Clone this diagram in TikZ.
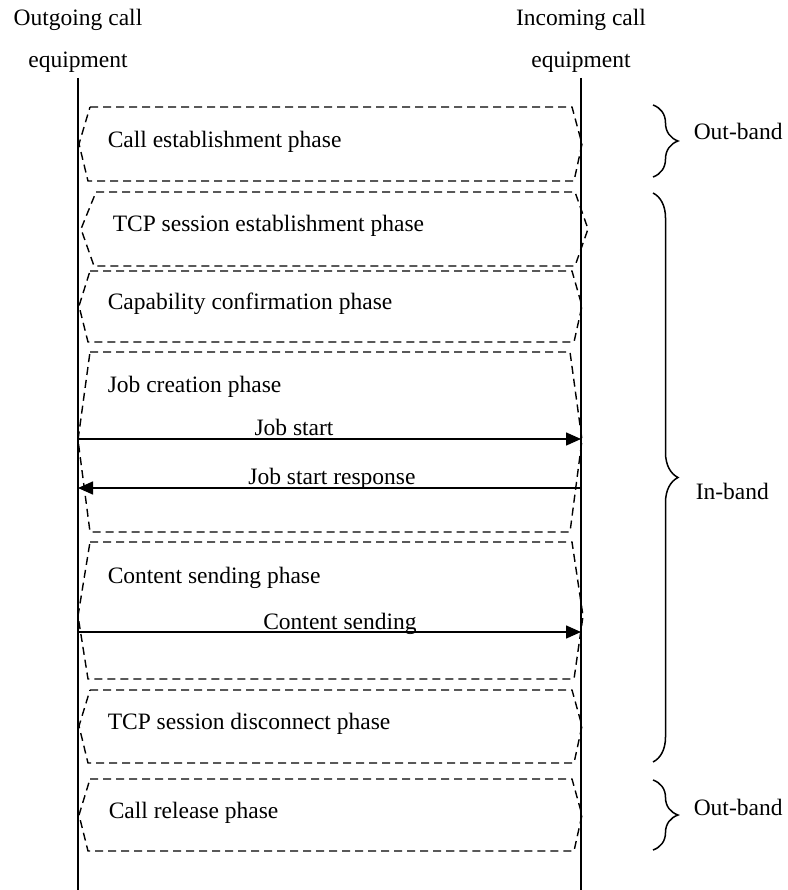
\documentclass[tikz,border=0pt]{standalone}
\usepackage{fontspec}
\setmainfont{Liberation Serif}
\usetikzlibrary{arrows.meta,decorations.pathreplacing}
\begin{document}
\begin{tikzpicture}[x=1pt,y=-1pt,font=\fontsize{23.5}{28}\selectfont,line width=1.5pt]
	\tikzstyle{phase}=[draw,dash pattern=on 8pt off 5pt,line width=1.4pt]
	\tikzstyle{msg}=[-{Triangle[length=15pt,width=13pt]}]
	\tikzstyle{band}=[decorate,decoration={brace,amplitude=25pt}]
	\tikzstyle{phasetext}=[anchor=base west,inner sep=0pt]
	\tikzstyle{msgtext}=[anchor=base,inner sep=0pt]
	\useasboundingbox (0,0) rectangle (787,890);
	% equipment
	\node[anchor=base] (outgoing) at (78,25.5) {Outgoing call};
	\node[anchor=base] (outequip) at (78,68) {equipment};
	\node[anchor=base] (incoming) at (581,25.5) {Incoming call};
	\node[anchor=base] (inequip) at (581,68) {equipment};
	\coordinate (out top) at (78,78);
	\coordinate (out bottom) at (78,890);
	\coordinate (in top) at (581,78);
	\coordinate (in bottom) at (581,890);
	\draw (out top) -- (out bottom);
	\draw (in top) -- (in bottom);
	% phases
	\draw[phase] (90,107) -- (572,107) -- (582,144) -- (574,181) -- (88,181) -- (79,144) -- cycle;
	\node[phasetext] (callest) at (107,148) {Call establishment phase};
	\draw[phase] (96,192) -- (575,192) -- (588,229) -- (575,266) -- (94,266) -- (81,229) -- cycle;
	\node[phasetext] (tcpest) at (112,232) {TCP session establishment phase};
	\draw[phase] (90,271) -- (572,271) -- (582,306) -- (574,342) -- (88,342) -- (79,306) -- cycle;
	\node[phasetext] (capconf) at (107,309) {Capability confirmation phase};
	\draw[phase] (90,352) -- (570,352) -- (582,440) -- (570,532) -- (90,532) -- (78,440) -- cycle;
	\node[phasetext] (jobcreate) at (107,392) {Job creation phase};
	\draw[phase] (90,542) -- (572,542) -- (583,616) -- (574,679) -- (88,679) -- (78,616) -- cycle;
	\node[phasetext] (contsend) at (107,583) {Content sending phase};
	\draw[phase] (90,690) -- (572,690) -- (582,726) -- (574,763) -- (88,763) -- (79,726) -- cycle;
	\node[phasetext] (tcpdisc) at (107,729) {TCP session disconnect phase};
	\draw[phase] (90,779) -- (572,779) -- (582,815) -- (574,851) -- (88,851) -- (79,815) -- cycle;
	\node[phasetext] (callrel) at (108,818) {Call release phase};
	% messages
	\coordinate (js out) at (78,439);
	\coordinate (js in) at (581,439);
	\draw[msg] (js out) -- (js in);
	\node[msgtext] (jobstart) at (294,435) {Job start};
	\coordinate (jsr out) at (78,488);
	\coordinate (jsr in) at (581,488);
	\draw[msg] (jsr in) -- (jsr out);
	\node[msgtext] (jobresp) at (332,484) {Job start response};
	\coordinate (cs out) at (78,632);
	\coordinate (cs in) at (581,632);
	\draw[msg] (cs out) -- (cs in);
	\node[msgtext] (content) at (340,629) {Content sending};
	% bands
	\draw[band] (653,105) -- (653,177);
	\node[anchor=base west,inner sep=0pt] (outband1) at (693,140) {Out-band};
	\draw[band] (653,193) -- (653,762);
	\node[anchor=base west,inner sep=0pt] (inband) at (695,499) {In-band};
	\draw[band] (653,780) -- (653,850);
	\node[anchor=base west,inner sep=0pt] (outband2) at (693,815) {Out-band};
\end{tikzpicture}
\end{document}
